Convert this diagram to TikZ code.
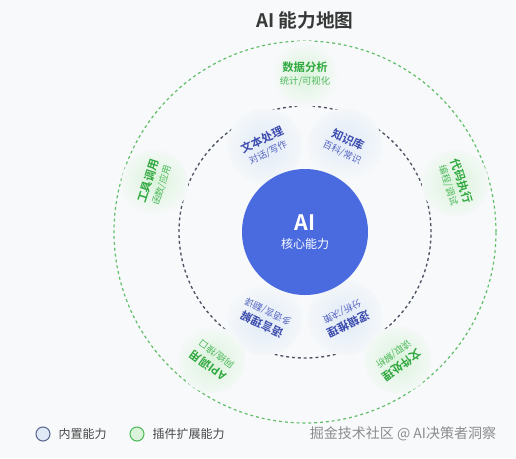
\documentclass[tikz,border=0pt]{standalone}
\usepackage{fontspec}
\setmainfont{Noto Sans CJK SC}[BoldFont={Noto Sans CJK SC Bold}]
\usetikzlibrary{shapes}

\definecolor{bgcol}{HTML}{F7F9FA}
\definecolor{corecol}{HTML}{4A6BE0}
\definecolor{inblue}{HTML}{3B4BAE}
\definecolor{insub}{HTML}{5564C2}
\definecolor{inglow}{HTML}{E0EAF7}
\definecolor{outgreen}{HTML}{2FA83E}
\definecolor{outsub}{HTML}{4DB95B}
\definecolor{outglow}{HTML}{DAF3DA}
\definecolor{ringgray}{HTML}{4C5262}
\definecolor{ringgreen}{HTML}{62BE69}
\definecolor{legblue}{HTML}{5A6890}

\begin{document}
\begin{tikzpicture}[x=0.75pt,y=0.75pt,
    incap/.style={circle,inner sep=0pt,minimum size=56pt,shading=radial,inner color=inglow,outer color=bgcol,
        align=center,text=inblue,font=\fontsize{8.5}{9}\selectfont\bfseries},
    outcap/.style={circle,inner sep=0pt,minimum size=50pt,shading=radial,inner color=outglow,outer color=bgcol,
        align=center,text=outgreen,font=\fontsize{8.5}{9}\selectfont\bfseries},
    legdot/.style={circle,line width=0.8pt,minimum size=10.5pt,inner sep=0pt}]
    % background and frame
    \fill[bgcol] (-305,-226) rectangle (211,232);
    \useasboundingbox (-305,-226) rectangle (211,232);
    \node[font=\fontsize{14}{16}\selectfont\bfseries,text=black!78] (title) at (0,212) {AI 能力地图};
    % rings
    \draw[ringgreen,line width=0.9pt,dash pattern=on 2.2pt off 2.2pt] (0,0) circle (191);
    \draw[ringgray,line width=1pt,dash pattern=on 2.2pt off 2.2pt] (0,0) circle (126);
    % built-in abilities
    \node[incap,rotate=25] (txt) at (115:95) {文本处理\\[1pt]{\fontsize{7}{8}\selectfont\mdseries\color{insub}对话/写作}};
    \node[incap,rotate=-25] (kb) at (65:95) {知识库\\[1pt]{\fontsize{7}{8}\selectfont\mdseries\color{insub}百科/常识}};
    \node[incap,rotate=-155] (logic) at (-65:95) {逻辑推理\\[1pt]{\fontsize{7}{8}\selectfont\mdseries\color{insub}分析/决策}};
    \node[incap,rotate=155] (lang) at (-115:95) {语言理解\\[1pt]{\fontsize{7}{8}\selectfont\mdseries\color{insub}多语言/翻译}};
    % core on top of the glows
    \node[circle,fill=corecol,minimum size=94.5pt,inner sep=0pt,align=center,text=white] (core) at (0,0)
        {{\fontsize{16}{18}\selectfont\bfseries AI}\\[1pt]{\fontsize{9}{11}\selectfont 核心能力}};
    % plugins
    \node[outcap] (data) at (90:158) {数据分析\\[1pt]{\fontsize{7}{8}\selectfont\mdseries\color{outsub}统计/可视化}};
    \node[outcap,rotate=-72] (code) at (18:158) {代码执行\\[1pt]{\fontsize{7}{8}\selectfont\mdseries\color{outsub}编程/调试}};
    \node[outcap,rotate=-144] (file) at (-54:158) {文件处理\\[1pt]{\fontsize{7}{8}\selectfont\mdseries\color{outsub}读取/解析}};
    \node[outcap,rotate=144] (api) at (-126:158) {API调用\\[1pt]{\fontsize{7}{8}\selectfont\mdseries\color{outsub}网络/接口}};
    \node[outcap,rotate=72] (tool) at (162:158) {工具调用\\[1pt]{\fontsize{7}{8}\selectfont\mdseries\color{outsub}函数/应用}};
    % legend
    \node[legdot,draw=legblue,fill=inglow] (leg1) at (-262,-202) {};
    \node[anchor=west,font=\fontsize{9}{11}\selectfont,text=black!72] (leg1t) at (-251,-202) {内置能力};
    \node[legdot,draw=outsub,fill=outglow] (leg2) at (-168,-202) {};
    \node[anchor=west,font=\fontsize{9}{11}\selectfont,text=black!72] (leg2t) at (-157,-202) {插件扩展能力};
    \node[font=\fontsize{10.5}{12}\selectfont,text=black!45] (mark) at (98,-202) {掘金技术社区 @ AI决策者洞察};
\end{tikzpicture}
\end{document}
